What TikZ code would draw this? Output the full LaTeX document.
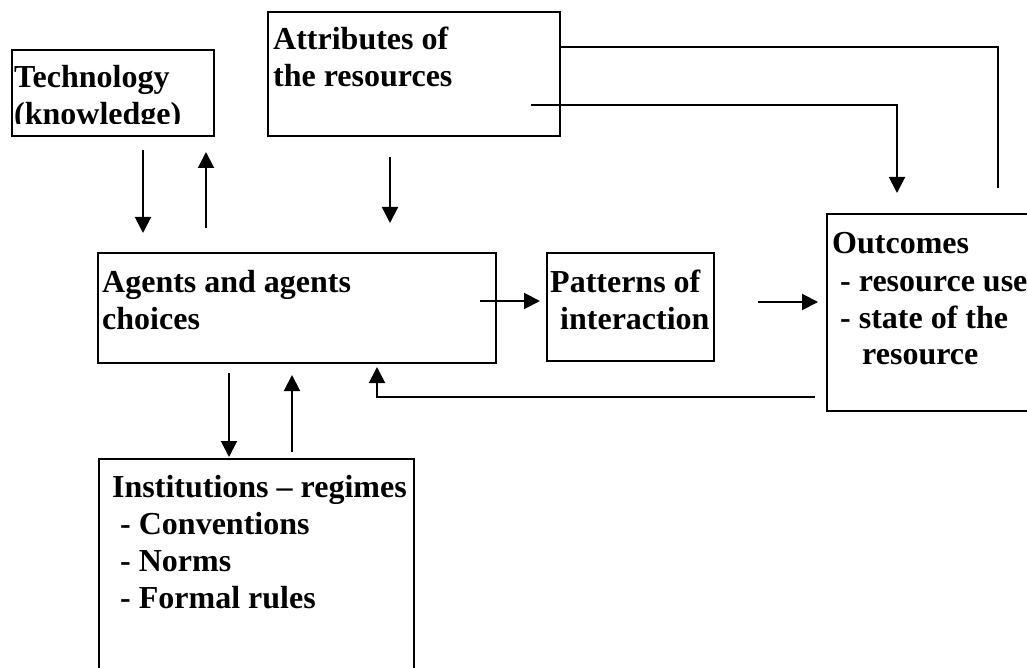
\documentclass[tikz,border=0pt]{standalone}
\usepackage{fontspec}
\setmainfont{Liberation Serif}
\usetikzlibrary{arrows.meta}
\begin{document}
\begin{tikzpicture}[x=1pt,y=-1pt,
  box/.style={draw=black, line width=1.8pt, rectangle, inner sep=0pt, anchor=north west},
  lbl/.style={anchor=base west, inner sep=0pt},
  conn/.style={line width=2pt, -{Triangle[length=16pt,width=16pt]}},
  plain/.style={line width=2pt}
]
\fill[white] (0,0) rectangle (1027,668);
\useasboundingbox (0,0) rectangle (1027,668);
\newcommand{\tx}[1]{\parbox[t]{400pt}{\fontsize{32}{37}\selectfont\bfseries #1}}
% boxes
\node[box, minimum width=202pt, minimum height=86pt] (tech) at (11,49) {};
\node[box, minimum width=292pt, minimum height=124pt] (attr) at (267,11) {};
\node[box, minimum width=398pt, minimum height=110pt] (agents) at (97,252) {};
\node[box, minimum width=167pt, minimum height=108pt] (patterns) at (546,252) {};
\node[box, minimum width=220pt, minimum height=197pt] (outcomes) at (826,213) {};
\node[box, minimum width=315pt, minimum height=240pt] (inst) at (98,458) {};
% texts
\begin{scope}
\clip (12,50) rectangle (212,124);
\node[lbl] (techtxt) at (14,88) {\tx{Technology\\(knowledge)}};
\end{scope}
\node[lbl] (attrtxt) at (273,50) {\tx{Attributes of\\the resources}};
\node[lbl] (agentstxt) at (102,292) {\tx{Agents and agents\\choices}};
\node[lbl] (patternstxt) at (550,292) {\tx{Patterns of\\\hspace*{10pt}interaction}};
\node[lbl] (outcomestxt) at (832,254) {\tx{Outcomes\\\hspace*{8pt}- resource use\\\hspace*{8pt}- state of the\\\hspace*{30pt}resource}};
\node[lbl] (insttxt) at (112,497) {\tx{Institutions -- regimes\\\hspace*{8pt}- Conventions\\\hspace*{8pt}- Norms\\\hspace*{8pt}- Formal rules}};
% free ends
\coordinate (t1s) at (143,150); \coordinate (t1e) at (143,233);
\coordinate (t2s) at (206,228); \coordinate (t2e) at (206,152);
\coordinate (a1s) at (390,157); \coordinate (a1e) at (390,223);
\coordinate (ap1) at (998,47); \coordinate (ap2) at (998,188);
\coordinate (ab1) at (531,105); \coordinate (ab2) at (897,105); \coordinate (ab3) at (897,193);
\coordinate (ps) at (480,301); \coordinate (pe) at (540,301);
\coordinate (os) at (758,302); \coordinate (oe) at (818,302);
\coordinate (f1) at (815,397); \coordinate (f2) at (377,397); \coordinate (f3) at (377,367);
\coordinate (i1s) at (229,373); \coordinate (i1e) at (229,457);
\coordinate (i2s) at (292,452); \coordinate (i2e) at (292,375);
% connectors
\draw[conn] (t1s) -- (t1e);
\draw[conn] (t2s) -- (t2e);
\draw[conn] (a1s) -- (a1e);
\draw[plain] (attr.east |- ap1) -- (ap1) -- (ap2);
\draw[conn] (ab1) -- (ab2) -- (ab3);
\draw[conn] (ps) -- (pe);
\draw[conn] (os) -- (oe);
\draw[conn] (f1) -- (f2) -- (f3);
\draw[conn] (i1s) -- (i1e);
\draw[conn] (i2s) -- (i2e);
\end{tikzpicture}
\end{document}
